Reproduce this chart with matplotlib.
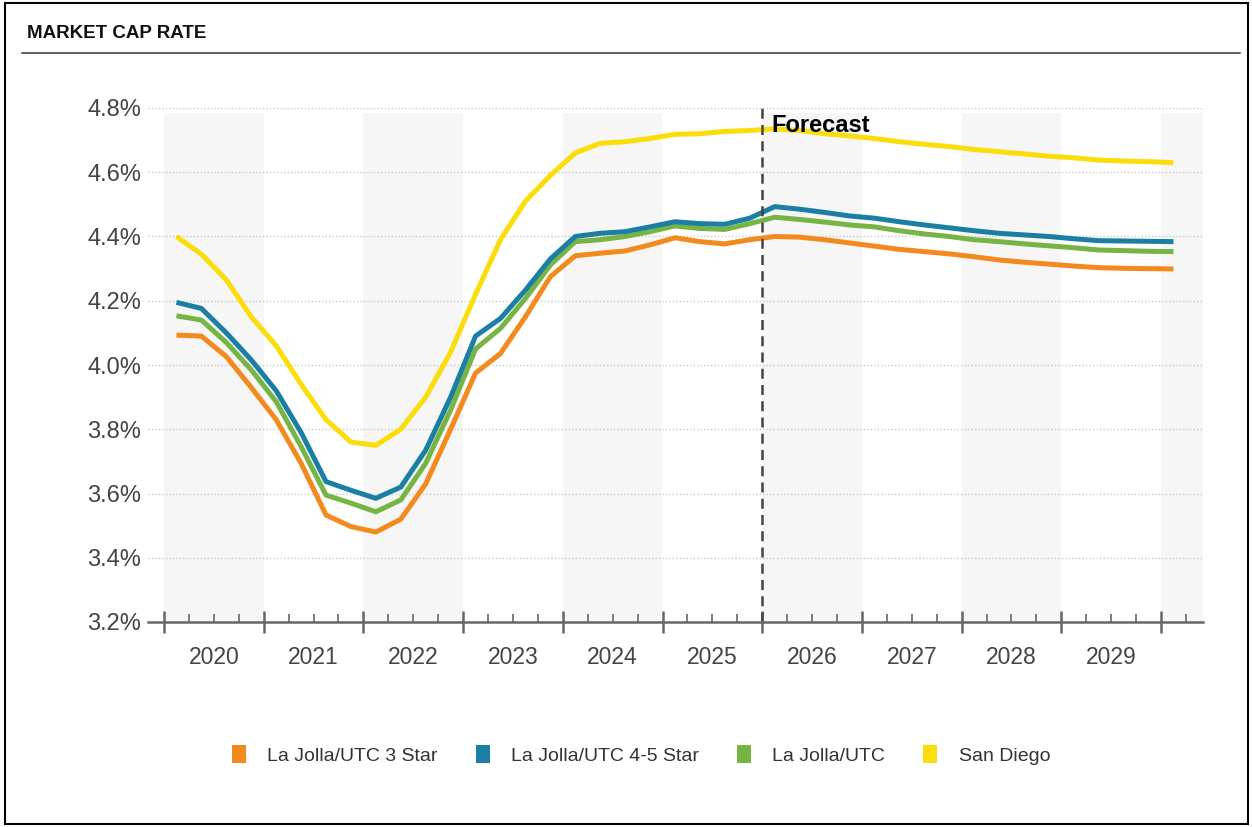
import numpy as np
import matplotlib
matplotlib.use("Agg")
import matplotlib.pyplot as plt
from matplotlib.patches import Patch, Rectangle
from matplotlib.lines import Line2D
from matplotlib.ticker import FixedLocator, FuncFormatter

plt.rcParams["font.family"] = ["Liberation Sans", "DejaVu Sans"]

# quarterly values, 2020 Q1 .. 2030 Q1
years = list(range(2020, 2030))
n_quarters = 41

three_star = [4.093, 4.09, 4.026, 3.93, 3.83, 3.694, 3.533, 3.497, 3.48, 3.52,
              3.63, 3.80, 3.975, 4.036, 4.15, 4.275, 4.34, 4.348, 4.355, 4.374,
              4.396, 4.384, 4.377, 4.39, 4.40, 4.398, 4.39, 4.38, 4.37, 4.36,
              4.353, 4.346, 4.337, 4.327, 4.32, 4.314, 4.308, 4.303, 4.301, 4.30, 4.299]
four_five_star = [4.195, 4.176, 4.10, 4.016, 3.92, 3.79, 3.637, 3.61, 3.585, 3.62,
                  3.735, 3.90, 4.09, 4.145, 4.233, 4.33, 4.40, 4.41, 4.415, 4.43,
                  4.446, 4.44, 4.438, 4.457, 4.493, 4.485, 4.475, 4.464, 4.457, 4.446,
                  4.436, 4.427, 4.418, 4.41, 4.405, 4.40, 4.393, 4.387, 4.386, 4.385, 4.384]
la_jolla = [4.153, 4.14, 4.07, 3.985, 3.886, 3.746, 3.595, 3.57, 3.543, 3.58,
            3.694, 3.86, 4.05, 4.114, 4.207, 4.311, 4.384, 4.39, 4.40, 4.415,
            4.433, 4.425, 4.422, 4.44, 4.46, 4.453, 4.445, 4.436, 4.43, 4.418,
            4.408, 4.40, 4.39, 4.384, 4.377, 4.371, 4.365, 4.358, 4.356, 4.354, 4.353]
san_diego = [4.40, 4.345, 4.265, 4.15, 4.06, 3.94, 3.83, 3.76, 3.75, 3.80,
             3.90, 4.04, 4.22, 4.39, 4.51, 4.59, 4.66, 4.69, 4.695, 4.705,
             4.718, 4.72, 4.727, 4.73, 4.735, 4.73, 4.72, 4.713, 4.705, 4.695,
             4.687, 4.68, 4.671, 4.664, 4.657, 4.65, 4.645, 4.638, 4.635, 4.633, 4.63]

series_names = ["La Jolla/UTC 3 Star", "La Jolla/UTC 4-5 Star", "La Jolla/UTC", "San Diego"]
series_colors = ["#F28A1E", "#1A7FA3", "#76B543", "#FBDD0A"]
forecast_start = 2026
y_ticks = [3.2, 3.4, 3.6, 3.8, 4.0, 4.2, 4.4, 4.6, 4.8]

x = 2020 + (np.arange(n_quarters) + 0.5) / 4

fig = plt.figure(figsize=(12.52, 8.27), dpi=100)
ax = fig.add_axes([148 / 1252, 205 / 827, 1055 / 1252, 514 / 827])

ax.set_xlim(2020 - 16 / 99.7, 2030 + 42 / 99.7)
ax.set_ylim(3.2, 4.8)

# alternating year bands
for yr in range(2020, 2031, 2):
    ax.axvspan(yr, yr + 1, ymin=0, ymax=0.99, color="#F6F6F6", lw=0, zorder=0)

for v in y_ticks[1:]:
    ax.axhline(v, color="#C9C9C9", lw=1, ls=(0, (1, 1.5)), zorder=1)

data = [three_star, la_jolla, four_five_star, san_diego]
order = [0, 2, 1, 3]
for vals, idx in zip(data, order):
    ax.plot(x, vals, color=series_colors[idx], lw=3.6, solid_capstyle="butt",
            solid_joinstyle="round", zorder=3)

ax.axvline(forecast_start, color="#444444", lw=1.8, ls=(0, (4, 2.5)), zorder=4)
ax.text(forecast_start + 0.09, 4.745, "Forecast", fontsize=17, fontweight="bold",
        color="black", va="center", ha="left", zorder=5)

for s in ["top", "right", "left"]:
    ax.spines[s].set_visible(False)
ax.spines["bottom"].set_color("#666666")
ax.spines["bottom"].set_linewidth(1.8)
ax.spines["bottom"].set_zorder(4)

ax.set_yticks(y_ticks)
ax.set_yticklabels([f"{v:.1f}%" for v in y_ticks])
ax.tick_params(axis="y", length=0, labelsize=17, labelcolor="#444444", pad=5)

ax.xaxis.set_major_locator(FixedLocator(list(range(2020, 2031))))
ax.xaxis.set_major_formatter(FuncFormatter(lambda v, p: ""))
quarters = [2020 + q / 4 for q in range(41) if q % 4 != 0] + [2030.25]
ax.xaxis.set_minor_locator(FixedLocator(quarters))
year_labels = {y + 0.5: str(y) for y in years}


def minor_label(v, p):
    for k, lab in year_labels.items():
        if abs(v - k) < 1e-6:
            return lab
    return ""


ax.xaxis.set_minor_formatter(FuncFormatter(minor_label))
ax.tick_params(axis="x", which="major", direction="inout", length=16, width=1.8,
               color="#666666")
ax.tick_params(axis="x", which="minor", direction="in", length=6, width=1.2,
               color="#666666", labelsize=16.5, labelcolor="#444444", pad=17.5)

# legend
handles = [Patch(facecolor=c, edgecolor="none") for c in series_colors]
fig.legend(handles, series_names, loc="center", bbox_to_anchor=(0.512, 0.087),
           ncol=4, frameon=False, fontsize=14, handlelength=0.72, handleheight=1.05,
           handletextpad=1.1, columnspacing=1.95, labelcolor="#333333")

# title and rule
fig.text(27 / 1252, 1 - 34 / 827, "MARKET CAP RATE", fontsize=13.5, fontweight="bold",
         color="#111111", va="center", ha="left")
fig.add_artist(Line2D([22 / 1252, 1240 / 1252], [1 - 53 / 827, 1 - 53 / 827],
                      color="#333333", lw=1.1))

# outer frame
fig.add_artist(Rectangle((5 / 1252, 3 / 827), 1243 / 1252, 821 / 827, fill=False,
                         edgecolor="black", lw=1.5, transform=fig.transFigure))

fig.savefig("out.png", dpi=100)
